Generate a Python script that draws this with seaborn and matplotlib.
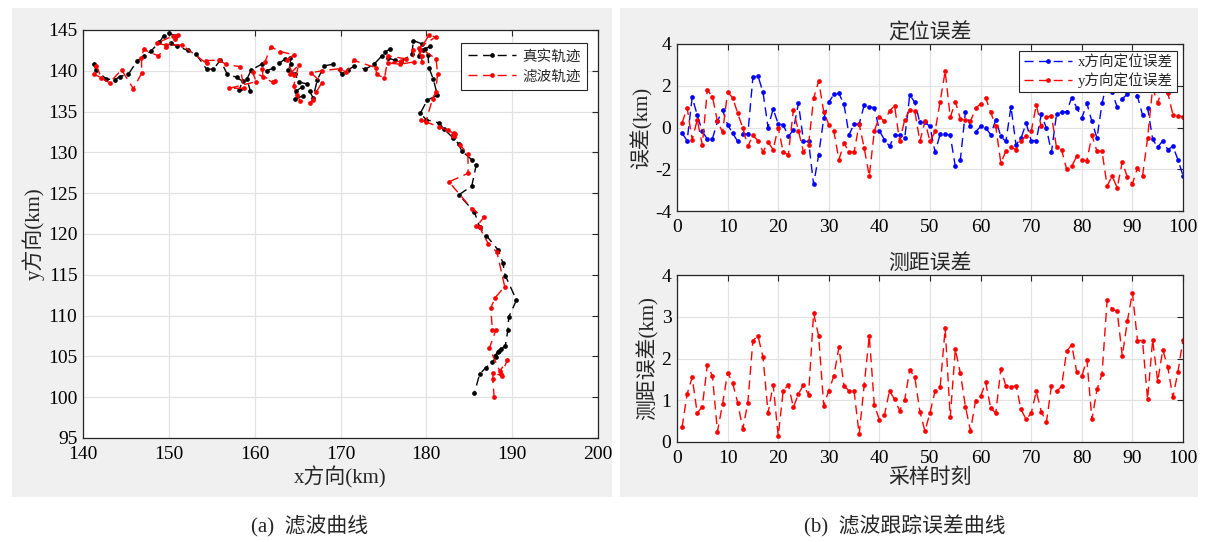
import numpy as np
import pandas as pd
import matplotlib
matplotlib.use('Agg')
import matplotlib.pyplot as plt
import seaborn as sns
from matplotlib.patches import Rectangle

# ---------------- data ----------------
sample_idx = list(range(1, 101))

true_x = [141.3, 141.5, 142.7, 143.7, 144.3, 145.3, 146.3, 147.1, 147.9, 148.9,
          149.4, 150.0, 150.8, 150.2, 151.0, 152.2, 153.2, 154.4, 155.2, 156.0,
          156.8, 157.9, 158.6, 158.2, 159.5, 159.1, 159.6, 160.8, 161.4, 162.1,
          162.8, 163.5, 164.1, 164.2, 163.9, 164.7, 165.2, 166.1, 165.5, 164.8,
          164.7, 165.6, 166.4, 166.8, 167.3, 168.1, 169.1, 170.2, 170.9, 171.6,
          172.9, 173.9, 174.8, 175.2, 175.8, 175.5, 176.3, 177.0, 178.3, 178.5,
          179.5, 179.1, 179.6, 179.9, 180.4, 180.2, 180.3, 180.8, 181.3, 180.1,
          179.3, 180.0, 181.5, 182.0, 183.1, 183.8, 184.1, 185.3, 185.8, 185.3,
          183.8, 185.6, 186.2, 187.0, 188.4, 188.9, 189.2, 190.5, 189.6, 189.5,
          189.2, 188.7, 188.3, 188.0, 188.5, 188.1, 187.7, 186.9, 186.2, 185.6]
true_y = [140.8, 140.1, 139.0, 138.9, 139.3, 139.6, 141.2, 141.8, 142.4, 143.5,
          144.3, 144.6, 144.3, 143.4, 143.0, 142.5, 142.0, 140.2, 140.2, 141.3,
          139.6, 139.2, 138.7, 137.7, 137.5, 139.0, 140.1, 140.8, 140.0, 140.3,
          140.9, 141.4, 141.6, 140.8, 140.1, 139.6, 138.6, 138.4, 138.0, 137.5,
          136.6, 136.9, 137.5, 136.7, 138.9, 140.6, 140.8, 139.6, 140.1, 140.6,
          140.2, 140.8, 141.8, 142.3, 142.7, 141.6, 141.3, 141.1, 142.0, 143.7,
          143.3, 141.8, 142.6, 142.7, 143.0, 141.9, 140.4, 139.0, 137.0, 136.4,
          134.8, 134.0, 133.6, 132.9, 131.8, 131.0, 130.2, 129.1, 128.4, 125.9,
          124.8, 122.7, 120.9, 119.8, 118.0, 116.5, 114.9, 111.9, 109.8, 108.2,
          106.3, 105.9, 105.5, 105.1, 105.7, 104.9, 104.3, 103.6, 102.8, 100.5]

filt_x = [141.57, 142.13, 141.26, 143.10, 144.49, 145.86, 146.84, 146.81, 147.06, 148.77,
          149.67, 150.67, 151.12, 150.52, 148.59, 149.72, 151.52, 154.40, 154.31, 155.83,
          156.67, 158.33, 158.71, 157.04, 160.17, 159.77, 162.33, 162.10, 160.96, 160.90,
          161.21, 161.87, 162.99, 164.55, 163.74, 164.54, 164.12, 165.12, 164.55, 164.96,
          165.29, 166.50, 166.78, 167.18, 167.81, 166.54, 167.90, 169.96, 170.66, 171.55,
          174.09, 174.22, 175.12, 175.58, 177.66, 177.04, 175.54, 176.95, 178.52, 178.45,
          179.50, 179.45, 179.23, 180.33, 181.07, 179.20, 181.13, 181.31, 181.09, 180.73,
          179.93, 179.37, 181.53, 183.19, 182.47, 183.07, 183.34, 183.87, 184.85, 184.86,
          182.64, 185.31, 186.71, 185.84, 186.20, 187.20, 188.23, 189.13, 188.00, 187.50,
          187.70, 188.10, 187.35, 188.56, 189.45, 188.73, 188.76, 187.80, 187.74, 187.90]
filt_y = [140.59, 139.15, 139.59, 138.53, 140.13, 137.81, 139.72, 141.51, 142.62, 141.82,
          142.87, 143.92, 144.33, 144.30, 143.38, 143.13, 143.17, 140.90, 141.26, 141.30,
          140.79, 140.50, 137.86, 137.86, 138.67, 139.83, 138.70, 138.58, 139.24, 140.17,
          141.09, 142.94, 142.35, 141.97, 141.27, 139.44, 139.58, 140.73, 138.16, 136.98,
          136.31, 136.11, 136.45, 137.37, 138.53, 139.76, 140.01, 140.27, 139.81, 141.27,
          140.39, 139.56, 139.10, 141.82, 141.46, 141.19, 140.95, 140.81, 141.08, 142.56,
          141.87, 141.07, 142.55, 144.40, 144.14, 142.85, 141.46, 139.63, 137.41, 136.59,
          133.72, 133.95, 133.12, 132.33, 132.75, 132.06, 132.20, 130.96, 129.78, 127.44,
          126.39, 123.08, 122.04, 120.94, 120.80, 118.83, 117.79, 113.55, 112.18, 110.90,
          108.24, 108.23, 106.01, 103.20, 104.55, 102.85, 102.65, 102.98, 102.25, 99.98]

err_x = [-0.27, -0.63, 1.44, 0.60, -0.19, -0.56, -0.54, 0.29, 0.84, 0.13,
         -0.27, -0.67, -0.32, -0.32, 2.41, 2.48, 1.68, 0.00, 0.89, 0.17,
         0.13, -0.43, -0.11, 1.16, -0.67, -0.67, -2.73, -1.30, 0.44, 1.20,
         1.59, 1.63, 1.11, -0.35, 0.16, 0.16, 1.08, 0.98, 0.95, -0.16,
         -0.59, -0.90, -0.38, -0.38, -0.51, 1.56, 1.20, 0.24, 0.24, 0.05,
         -1.19, -0.32, -0.32, -0.38, -1.86, -1.54, 0.76, 0.05, -0.22, 0.05,
         0.00, -0.35, 0.37, -0.43, -0.67, 1.00, -0.83, -0.51, 0.21, -0.63,
         -0.63, 0.63, -0.03, -1.19, 0.63, 0.73, 0.76, 1.43, 0.95, 0.44,
         1.16, 0.29, -0.51, 1.16, 2.20, 1.70, 0.97, 1.37, 1.60, 2.00,
         1.50, 0.60, 0.95, -0.56, -0.95, -0.63, -1.06, -0.90, -1.54, -2.30]
err_y = [0.21, 0.95, -0.59, 0.37, -0.83, 1.79, 1.48, 0.29, -0.22, 1.68,
         1.43, 0.68, -0.03, -0.90, -0.38, -0.63, -1.17, -0.70, -1.06, 0.00,
         -1.19, -1.30, 0.84, -0.16, -1.17, -0.83, 1.40, 2.22, 0.76, 0.13,
         -0.19, -1.54, -0.75, -1.17, -1.17, 0.16, -0.98, -2.33, -0.16, 0.52,
         0.29, 0.79, 1.05, -0.67, 0.37, 0.84, 0.79, -0.67, 0.29, -0.67,
         -0.19, 1.24, 2.70, 0.48, 1.24, 0.41, 0.35, 0.29, 0.92, 1.14,
         1.43, 0.73, 0.05, -1.70, -1.14, -0.95, -1.06, -0.63, -0.41, -0.19,
         1.08, 0.05, 0.48, 0.57, -0.95, -1.06, -2.00, -1.86, -1.38, -1.54,
         -1.59, -0.38, -1.14, -1.14, -2.80, -2.33, -2.89, -1.65, -2.38, -2.70,
         -1.94, -2.33, -0.51, 1.90, 1.15, 2.05, 1.65, 0.62, 0.55, 0.52]
range_err = [0.35, 1.15, 1.55, 0.69, 0.85, 1.85, 1.58, 0.25, 0.91, 1.66,
             1.41, 0.94, 0.31, 0.94, 2.43, 2.54, 2.03, 0.69, 1.37, 0.15,
             1.23, 1.37, 0.83, 1.15, 1.37, 1.13, 3.09, 2.53, 0.87, 1.23,
             1.58, 2.27, 1.34, 1.23, 1.21, 0.18, 1.37, 2.54, 0.89, 0.53,
             0.65, 1.23, 1.02, 0.75, 1.01, 1.73, 1.55, 0.73, 0.26, 0.70,
             1.22, 1.31, 2.72, 0.59, 2.22, 1.65, 0.85, 0.27, 0.99, 1.09,
             1.43, 0.81, 0.69, 1.75, 1.34, 1.31, 1.35, 0.78, 0.54, 0.69,
             1.21, 0.73, 0.47, 1.34, 1.21, 1.33, 2.17, 2.33, 1.67, 1.58,
             1.97, 0.54, 1.26, 1.63, 3.39, 3.18, 3.13, 2.06, 2.89, 3.58,
             2.43, 2.43, 1.02, 2.45, 1.45, 2.21, 1.79, 1.07, 1.68, 2.45]

x_ticks_traj = [140, 150, 160, 170, 180, 190, 200]
y_ticks_traj = [95, 100, 105, 110, 115, 120, 125, 130, 135, 140, 145]
x_ticks_t = [0, 10, 20, 30, 40, 50, 60, 70, 80, 90, 100]
y_ticks_pos = [-4, -2, 0, 2, 4]
y_ticks_rng = [0, 1, 2, 3, 4]

# ---------------- style ----------------
sns.set_style('white')
plt.rcParams['font.family'] = ['Liberation Serif', 'Noto Sans CJK SC']
plt.rcParams['axes.unicode_minus'] = False

W, H = 1211, 542
fig = plt.figure(figsize=(W / 100, H / 100), dpi=100)
fig.patch.set_facecolor('white')

def px_rect(x0, y0, x1, y1):
    return [x0 / W, 1 - y1 / H, (x1 - x0) / W, (y1 - y0) / H]

# gray panels
for (x0, y0, x1, y1) in [(12, 8, 612, 497), (620, 8, 1198, 497)]:
    r = px_rect(x0, y0, x1, y1)
    fig.add_artist(Rectangle((r[0], r[1]), r[2], r[3], transform=fig.transFigure,
                             facecolor='#f0f0f0', edgecolor='none', zorder=-10))

DASH = (0, (6.5, 4))
line_kw = dict(linestyle=DASH, marker='o', markersize=3.4, markeredgewidth=0,
               linewidth=1.0, sort=False, estimator=None)

def style_axes(ax):
    ax.set_facecolor('white')
    ax.grid(True, color='#e2e2e2', linewidth=0.9)
    ax.set_axisbelow(True)
    for s in ax.spines.values():
        s.set_visible(True)
        s.set_color('#262626')
        s.set_linewidth(0.9)
    ax.tick_params(direction='in', top=True, right=True, length=4, width=0.8,
                   labelsize=14, colors='#262626', labelcolor='black')
    ax.tick_params(axis='x', pad=6)
    ax.tick_params(axis='y', pad=4)

leg_kw = dict(borderaxespad=0, frameon=True, fancybox=False, edgecolor='#262626',
              fontsize=10.5, handlelength=3.3, handletextpad=0.4, framealpha=1)

# ---------------- left: trajectories ----------------
ax1 = fig.add_axes(px_rect(83, 30, 598, 438))
df_t = pd.DataFrame({'x': true_x, 'y': true_y})
df_f = pd.DataFrame({'x': filt_x, 'y': filt_y})
sns.lineplot(data=df_t, x='x', y='y', ax=ax1, color='black', label='真实轨迹', **line_kw)
sns.lineplot(data=df_f, x='x', y='y', ax=ax1, color='red', label='滤波轨迹', **line_kw)
ax1.set_xlim(140, 200)
ax1.set_ylim(95, 145)
ax1.set_xticks(x_ticks_traj)
ax1.set_yticks(y_ticks_traj)
style_axes(ax1)
ax1.set_xlabel('x方向(km)', fontsize=15, labelpad=2)
ax1.set_ylabel('y方向(km)', fontsize=15, labelpad=2)
leg = ax1.legend(loc='upper right', bbox_to_anchor=((587 - 83) / 515, 1 - (43 - 30) / 408),
                 borderpad=0.45, labelspacing=0.45, **leg_kw)
leg.get_frame().set_linewidth(0.8)

# ---------------- right top: position errors ----------------
ax2 = fig.add_axes(px_rect(677, 44, 1183, 211))
df_e = pd.DataFrame({'k': sample_idx, 'ex': err_x, 'ey': err_y})
sns.lineplot(data=df_e, x='k', y='ex', ax=ax2, color='blue', label='x方向定位误差', **line_kw)
sns.lineplot(data=df_e, x='k', y='ey', ax=ax2, color='red', label='y方向定位误差', **line_kw)
ax2.set_xlim(0, 100)
ax2.set_ylim(-4, 4)
ax2.set_xticks(x_ticks_t)
ax2.set_yticks(y_ticks_pos)
style_axes(ax2)
ax2.set_xlabel('')
ax2.set_ylabel('误差(km)', fontsize=15, labelpad=2)
ax2.set_title('定位误差', fontsize=15, pad=4)
leg2 = ax2.legend(loc='upper right', bbox_to_anchor=((1177 - 677) / 506, 1 - (51 - 44) / 167),
                  borderpad=0.3, labelspacing=0.2, **leg_kw)
leg2.get_frame().set_linewidth(0.8)

# ---------------- right bottom: range error ----------------
ax3 = fig.add_axes(px_rect(677, 275, 1183, 442))
df_r = pd.DataFrame({'k': sample_idx, 'r': range_err})
sns.lineplot(data=df_r, x='k', y='r', ax=ax3, color='red', **line_kw)
ax3.set_xlim(0, 100)
ax3.set_ylim(0, 4)
ax3.set_xticks(x_ticks_t)
ax3.set_yticks(y_ticks_rng)
style_axes(ax3)
ax3.set_xlabel('采样时刻', fontsize=15, labelpad=1)
ax3.set_ylabel('测距误差(km)', fontsize=15, labelpad=2)
ax3.set_title('测距误差', fontsize=15, pad=4)

# ---------------- captions ----------------
fig.text(310 / W, 1 - 526 / H, '(a)  滤波曲线', ha='center', va='center', fontsize=15)
fig.text(905 / W, 1 - 526 / H, '(b)  滤波跟踪误差曲线', ha='center', va='center', fontsize=15)

fig.savefig('out.png', dpi=100, facecolor='white')
